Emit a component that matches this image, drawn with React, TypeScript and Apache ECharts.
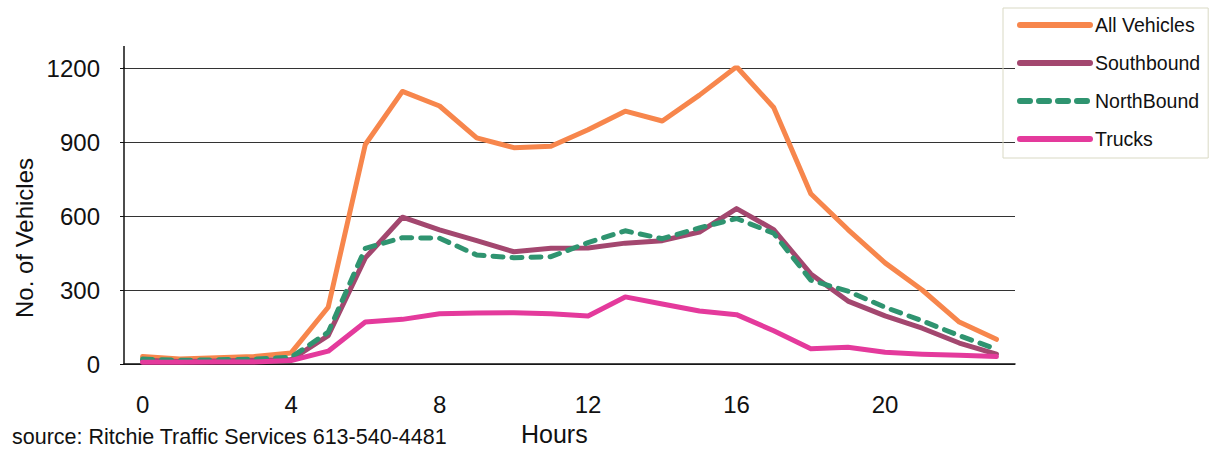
import React, { useEffect, useRef } from "react";
import * as echarts from "echarts";

const hours = Array.from({ length: 24 }, (_, i) => String(i));
const allVehicles = [30, 20, 25, 30, 45, 230, 890, 1105, 1046, 917, 877, 883, 950, 1025, 985, 1090, 1205, 1040, 690, 545, 410, 300, 170, 100];
const southbound = [15, 10, 12, 15, 18, 115, 430, 595, 544, 500, 455, 469, 470, 490, 500, 535, 630, 545, 365, 255, 195, 145, 85, 40];
const northbound = [20, 15, 17, 20, 27, 129, 469, 512, 510, 442, 431, 435, 492, 540, 508, 552, 590, 530, 340, 295, 230, 175, 115, 60];
const trucks = [7, 7, 8, 8, 14, 52, 170, 181, 204, 207, 208, 204, 195, 272, 243, 215, 200, 135, 62, 68, 48, 40, 35, 30];
const yTicks = { min: 0, max: 1200, interval: 300 };

const FONT = "'Liberation Sans', Arial, sans-serif";

export default function App() {
  const ref = useRef<HTMLDivElement>(null);
  useEffect(() => {
    if (!ref.current) return;
    const chart = echarts.init(ref.current, null, { renderer: "svg" });
    const mk = (name: string, data: number[], color: string, type: any = "solid") => ({
      name,
      type: "line",
      data,
      symbol: "none",
      lineStyle: { color, width: 5, type, cap: "round", join: "round" },
      itemStyle: { color },
    });
    chart.setOption({
      animation: false,
      backgroundColor: "#ffffff",
      textStyle: { fontFamily: FONT },
      grid: { left: 124, right: 194, top: 68, bottom: 86 },
      legend: {
        orient: "vertical",
        left: 1003,
        top: 8,
        padding: [7, 8, 9, 14],
        itemGap: 18,
        itemWidth: 70,
        itemHeight: 6,
        borderColor: "#d9d9c4",
        borderWidth: 1,
        itemStyle: { color: "transparent", borderColor: "transparent", borderWidth: 0 },
        lineStyle: { width: 6 },
        textStyle: { fontSize: 19.5, color: "#111", fontFamily: FONT },
        data: ["All Vehicles", "Southbound", "NorthBound", "Trucks"],
      },
      xAxis: {
        type: "category",
        data: hours,
        boundaryGap: true,
        axisLine: { lineStyle: { color: "#111", width: 1.5 } },
        axisTick: { alignWithLabel: true, interval: 0, length: 5, lineStyle: { color: "#111", width: 1.5 } },
        axisLabel: { interval: 3, fontSize: 24, color: "#111", margin: 28, fontFamily: FONT },
        splitLine: { show: false },
      },
      yAxis: {
        type: "value",
        min: yTicks.min,
        max: yTicks.max,
        interval: yTicks.interval,
        axisLine: { show: true, lineStyle: { color: "#111", width: 1.5 } },
        axisTick: { show: true, length: 4, lineStyle: { color: "#111" } },
        axisLabel: { fontSize: 24, color: "#111", margin: 24, fontFamily: FONT, formatter: (v: number) => String(v) },
        splitLine: { show: true, lineStyle: { color: "#333", width: 1 } },
      },
      graphic: [
        { type: "line", shape: { x1: 124, y1: 46, x2: 124, y2: 68 }, style: { stroke: "#111", lineWidth: 1.5 } },
        {
          type: "text",
          x: 24,
          y: 238,
          rotation: Math.PI / 2,
          style: { text: "No. of Vehicles", fontSize: 24, fill: "#111", fontFamily: FONT, align: "center", verticalAlign: "middle" },
        },
        { type: "text", left: 521, top: 421, style: { text: "Hours", fontSize: 25, fill: "#111", fontFamily: FONT } },
        { type: "text", left: 12, top: 426, style: { text: "source: Ritchie Traffic Services 613-540-4481", fontSize: 21.5, fill: "#111", fontFamily: FONT } },
      ],
      series: [
        mk("All Vehicles", allVehicles, "#f7864c"),
        mk("Southbound", southbound, "#a3476f"),
        mk("NorthBound", northbound, "#2f9470", [10, 9]),
        mk("Trucks", trucks, "#e43a9c"),
      ],
    });
    return () => chart.dispose();
  }, []);
  return <div ref={ref} style={{ position: "absolute", left: 0, top: 0, width: 1209, height: 450 }} />;
}
